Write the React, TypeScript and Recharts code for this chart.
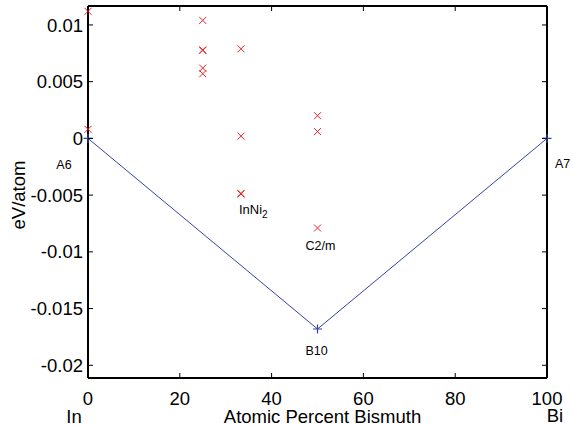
import React from "react";
import { ComposedChart, Scatter, Line, XAxis, YAxis, Label, ReferenceLine } from "recharts";

const FONT = "'Liberation Sans', Arial, sans-serif";

const X_TICKS = [0, 20, 40, 60, 80, 100];
const Y_TICKS = [-0.02, -0.015, -0.01, -0.005, 0, 0.005, 0.01];
const Y_DOMAIN = [-0.02112, 0.01167];

// formation energies of trial structures (at.% Bi, eV/atom)
const structX = [0, 0, 25, 25, 25, 25, 25, 33.33, 33.33, 33.33, 33.33, 50, 50, 50];
const structY = [0.0112, 0.0008, 0.0104, 0.0078, 0.00775, 0.0062, 0.0057, 0.0079, 0.0002, -0.00485, -0.0049, 0.002, 0.0006, -0.0079];

// convex hull
const hullX = [0, 50, 100];
const hullY = [0, -0.0168, 0];

// structure names, attached to points
const labelNames = ["A6", "InNi2", "C2/m", "B10", "A7"];
const labelX = [0, 33.33, 50, 50, 100];
const labelY = [0, -0.00485, -0.0079, -0.0168, 0];

const endNames = ["In", "Bi"];

const structData = structX.map((x, i) => ({ x, y: structY[i] }));
const hullData = hullX.map((x, i) => ({ x, y: hullY[i] }));
const labelData = labelX.map((x, i) => ({ x, y: labelY[i], name: labelNames[i] }));

// pixel offsets of each label from its point
const labelStyle: Record<string, { dx: number; dy: number; anchor: string }> = {
  A6: { dx: -24, dy: 30.5, anchor: "middle" },
  InNi2: { dx: -2, dy: 21, anchor: "start" },
  "C2/m": { dx: 3, dy: 22, anchor: "middle" },
  B10: { dx: -1, dy: 26, anchor: "middle" },
  A7: { dx: 8, dy: 30, anchor: "start" },
};

const RED = "#f02020";
const BLUE = "#3343a6";
const TICK = 5;

// plot box (matches chart margins / axis sizes below)
const M = { top: 6, right: 25, bottom: 0, left: 0 };
const Y_AXIS_W = 88;
const X_AXIS_H = 47;
const CHART_W = 572;
const CHART_H = 425;
const PLOT_TOP = M.top;
const PLOT_RIGHT = CHART_W - M.right;

const Cross = (p: any) => {
  const { cx, cy } = p;
  const s = 3.5;
  return (
    <path
      d={`M${cx - s},${cy - s}L${cx + s},${cy + s}M${cx - s},${cy + s}L${cx + s},${cy - s}`}
      stroke={RED}
      strokeWidth={1}
      fill="none"
    />
  );
};

const Plus = (p: any) => {
  const { cx, cy, index } = p;
  const s = 4.5;
  return (
    <path
      key={`plus-${index}`}
      d={`M${cx - s},${cy}L${cx + s},${cy}M${cx},${cy - s}L${cx},${cy + s}`}
      stroke={BLUE}
      strokeWidth={1.2}
      fill="none"
    />
  );
};

const NameLabel = (p: any) => {
  const { cx, cy, payload } = p;
  const st = labelStyle[payload.name];
  const x = cx + st.dx;
  const y = cy + st.dy;
  if (payload.name === "InNi2") {
    return (
      <text x={x} y={y} textAnchor="start" fontSize={13} fontFamily={FONT} fill="#000">
        InNi<tspan fontSize={10} dy={4}>2</tspan>
      </text>
    );
  }
  return (
    <text x={x} y={y} textAnchor={st.anchor as any} fontSize={12.5} fontFamily={FONT} fill="#000">
      {payload.name}
    </text>
  );
};

// left ticks, mirrored on the right edge
const LeftTick = (p: any) => {
  const { x, y, payload } = p;
  return (
    <g>
      <line x1={x} x2={x + TICK} y1={y} y2={y} stroke="#000" strokeWidth={1} />
      <line x1={PLOT_RIGHT - TICK} x2={PLOT_RIGHT} y1={y} y2={y} stroke="#000" strokeWidth={1} />
      <text x={x - 5} y={y + 6.6} textAnchor="end" fontSize={18.5} fontFamily={FONT} fill="#000">
        {String(payload.value)}
      </text>
    </g>
  );
};

// bottom ticks, mirrored on the top edge
const BottomTick = (p: any) => {
  const { x, y, payload } = p;
  const v = payload.value;
  return (
    <g>
      <line x1={x} x2={x} y1={y} y2={y - TICK} stroke="#000" strokeWidth={1} />
      <line x1={x} x2={x} y1={PLOT_TOP} y2={PLOT_TOP + TICK} stroke="#000" strokeWidth={1} />
      <text x={x} y={y + 27} textAnchor="middle" fontSize={18.5} fontFamily={FONT} fill="#000">
        {String(v)}
      </text>
      {v === 0 && (
        <text x={x - 14} y={y + 44.5} textAnchor="middle" fontSize={18.5} fontFamily={FONT} fill="#000">
          {endNames[0]}
        </text>
      )}
      {v === 100 && (
        <text x={x + 8} y={y + 43.5} textAnchor="middle" fontSize={18.5} fontFamily={FONT} fill="#000">
          {endNames[1]}
        </text>
      )}
    </g>
  );
};

const XTitle = (p: any) => {
  const { x, y, width } = p.viewBox;
  return (
    <text x={x + width / 2 + 5} y={y + 45} textAnchor="middle" fontSize={18.5} fontFamily={FONT} fill="#000">
      Atomic Percent Bismuth
    </text>
  );
};

const YTitle = (p: any) => {
  const { y, height } = p.viewBox;
  const cy = y + height / 2 + 3;
  return (
    <text
      transform={`translate(25, ${cy}) rotate(-90)`}
      textAnchor="middle"
      fontSize={18.5}
      fontFamily={FONT}
      fill="#000"
    >
      eV/atom
    </text>
  );
};

export default function App() {
  return (
    <div style={{ position: "absolute", left: 0, top: 0, width: CHART_W, height: CHART_H, background: "#fff" }}>
      <ComposedChart width={CHART_W} height={CHART_H} margin={M}>
        <XAxis
          type="number"
          dataKey="x"
          domain={[0, 100]}
          ticks={X_TICKS}
          height={X_AXIS_H}
          tickSize={0}
          tickMargin={0}
          tickLine={false}
          tick={BottomTick}
          axisLine={{ stroke: "#000", strokeWidth: 2 }}
          interval={0}
        >
          <Label content={XTitle} />
        </XAxis>
        <YAxis
          type="number"
          dataKey="y"
          domain={Y_DOMAIN}
          ticks={Y_TICKS}
          width={Y_AXIS_W}
          tickSize={0}
          tickMargin={0}
          tickLine={false}
          tick={LeftTick}
          axisLine={{ stroke: "#000", strokeWidth: 2 }}
          interval={0}
        >
          <Label content={YTitle} />
        </YAxis>
        {/* box: top and right edges */}
        <ReferenceLine y={Y_DOMAIN[1]} stroke="#000" strokeWidth={2} />
        <ReferenceLine x={100} stroke="#000" strokeWidth={2} />
        <Line
          data={hullData}
          dataKey="y"
          stroke={BLUE}
          strokeWidth={1}
          dot={Plus}
          activeDot={false}
          isAnimationActive={false}
        />
        <Scatter data={structData} shape={Cross} isAnimationActive={false} />
        <Scatter data={labelData} shape={NameLabel} isAnimationActive={false} />
      </ComposedChart>
    </div>
  );
}
